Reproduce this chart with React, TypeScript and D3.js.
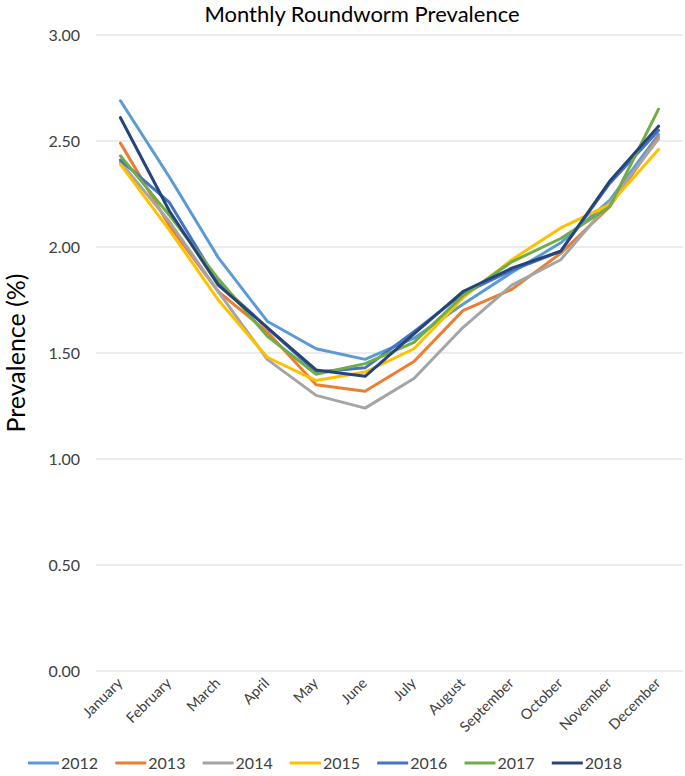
import * as d3 from 'd3';

const months = [
  'January', 'February', 'March', 'April', 'May', 'June',
  'July', 'August', 'September', 'October', 'November', 'December',
];
const years = ['2012', '2013', '2014', '2015', '2016', '2017', '2018'];
const colors = ['#5B9BD5', '#ED7D31', '#A5A5A5', '#FFC000', '#4472C4', '#70AD47', '#264478'];

const v2012 = [2.69, 2.33, 1.95, 1.65, 1.52, 1.47, 1.57, 1.73, 1.88, 2.02, 2.22, 2.53];
const v2013 = [2.49, 2.1, 1.79, 1.6, 1.35, 1.32, 1.46, 1.7, 1.8, 1.97, 2.19, 2.52];
const v2014 = [2.4, 2.12, 1.79, 1.47, 1.3, 1.24, 1.38, 1.62, 1.82, 1.94, 2.21, 2.51];
const v2015 = [2.39, 2.08, 1.75, 1.48, 1.37, 1.41, 1.52, 1.76, 1.94, 2.09, 2.2, 2.46];
const v2016 = [2.41, 2.21, 1.83, 1.62, 1.41, 1.43, 1.6, 1.78, 1.89, 1.98, 2.3, 2.55];
const v2017 = [2.43, 2.15, 1.85, 1.58, 1.4, 1.45, 1.55, 1.77, 1.93, 2.04, 2.19, 2.65];
const v2018 = [2.61, 2.17, 1.82, 1.62, 1.42, 1.39, 1.59, 1.79, 1.9, 1.98, 2.31, 2.57];
const series = [v2012, v2013, v2014, v2015, v2016, v2017, v2018];

const yTicks = [0, 0.5, 1, 1.5, 2, 2.5, 3];

const width = 685;
const height = 776;
const left = 96;
const right = 683;
const top = 35;
const bottom = 671;
const font = 'Lato, Carlito, Calibri, sans-serif';

export default function App() {
  const x = d3.scaleBand<string>().domain(months).range([left, right]);
  const y = d3.scaleLinear().domain([0, 3]).range([bottom, top]);
  const line = d3
    .line<number>()
    .x((_, i) => x(months[i])! + x.bandwidth() / 2)
    .y((d) => y(d));

  return (
    <svg
      width={width}
      height={height}
      style={{ position: 'absolute', left: 0, top: 0, background: '#fff' }}
      fontFamily={font}
    >
      <text x={362} y={22} fontSize={22} textAnchor="middle" fill="#000">
        Monthly Roundworm Prevalence
      </text>

      {/* gridlines + y labels */}
      <g>
        {yTicks.map((t) => (
          <g key={t}>
            <line x1={left} x2={right} y1={y(t)} y2={y(t)} stroke="#D9D9D9" strokeWidth={1} />
            <text x={80} y={y(t)} dy="0.35em" fontSize={16} textAnchor="end" fill="#404040">
              {d3.format('.2f')(t)}
            </text>
          </g>
        ))}
      </g>

      <text
        transform={`translate(25,${(top + bottom) / 2}) rotate(-90)`}
        fontSize={25}
        textAnchor="middle"
        fill="#000"
      >
        Prevalence (%)
      </text>

      {/* x labels */}
      <g>
        {months.map((m) => (
          <text
            key={m}
            transform={`translate(${x(m)! + x.bandwidth() / 2 + 3},${bottom + 13}) rotate(-45)`}
            fontSize={14.5}
            textAnchor="end"
            fill="#404040"
          >
            {m}
          </text>
        ))}
      </g>

      {/* lines */}
      <g fill="none" strokeWidth={3} strokeLinejoin="round" strokeLinecap="round">
        {series.map((s, i) => (
          <path key={years[i]} d={line(s)!} stroke={colors[i]} />
        ))}
      </g>

      {/* legend */}
      <g>
        {years.map((yr, i) => {
          const lx = 28 + i * 87.3;
          return (
            <g key={yr}>
              <line x1={lx} x2={lx + 31} y1={763} y2={763} stroke={colors[i]} strokeWidth={3} />
              <text x={lx + 33} y={763} dy="0.35em" fontSize={16} fill="#404040">
                {yr}
              </text>
            </g>
          );
        })}
      </g>
    </svg>
  );
}
